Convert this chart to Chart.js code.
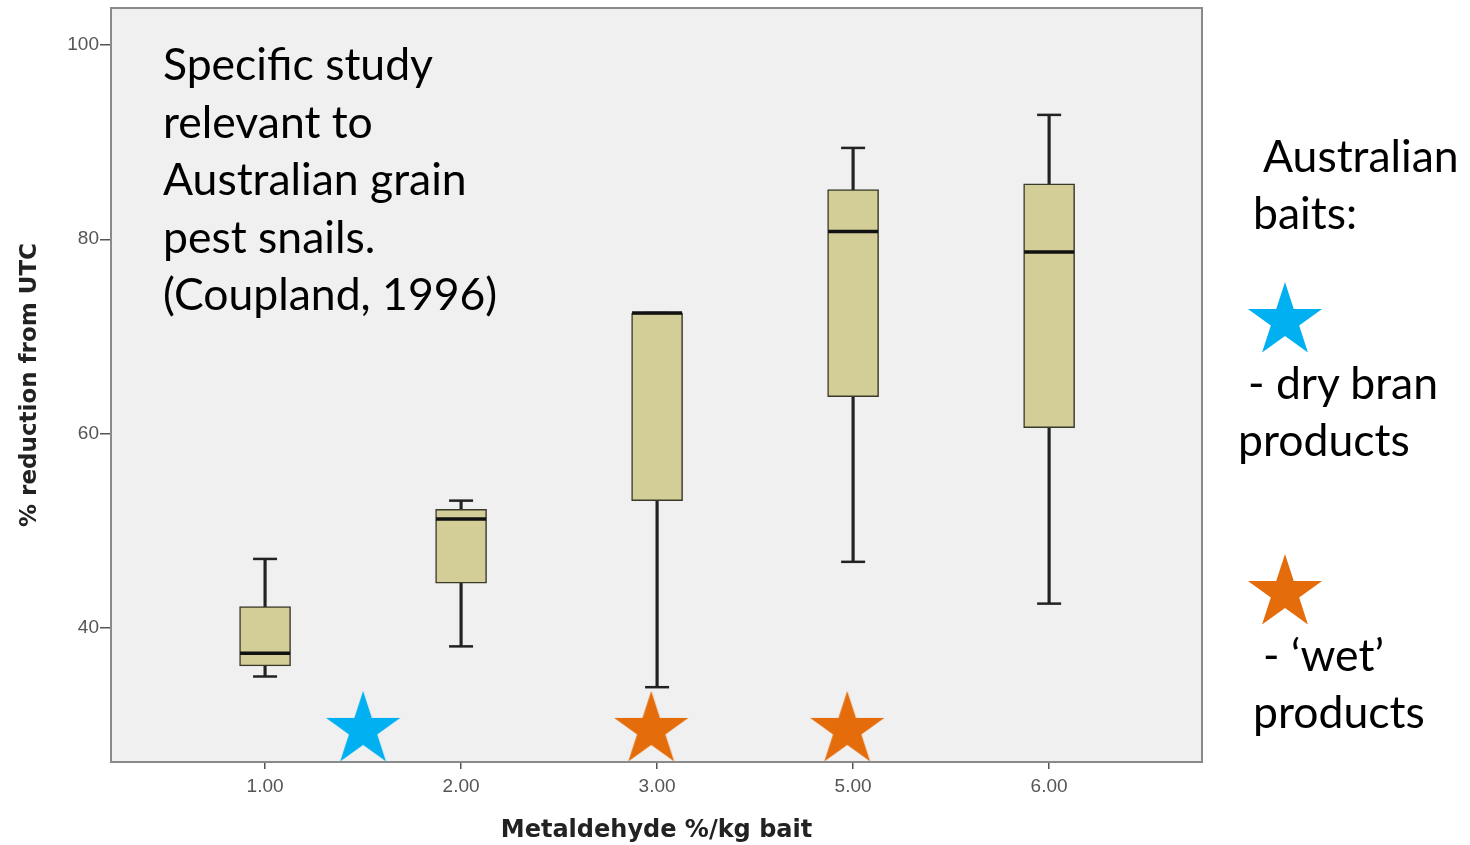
<!DOCTYPE html>
<html>
<head>
<meta charset="utf-8">
<script src="https://cdn.jsdelivr.net/npm/chart.js@4.4.1/dist/chart.umd.min.js"></script>
<style>
  html, body { margin: 0; padding: 0; background: #ffffff; }
  #wrap { position: relative; width: 1470px; height: 845px; overflow: hidden; }
  #chart { position: absolute; left: 0; top: 0; }
  .note { position: absolute; font-family: Lato, "Open Sans", sans-serif; color: #000; font-size: 44.5px; line-height: 57.5px; white-space: nowrap; }
  .key { position: absolute; }
</style>
</head>
<body>
<div id="wrap">
  <canvas id="chart" width="1470" height="845"></canvas>
  <div class="note" style="left:163px; top:34px;">Specific study<br>relevant to<br>Australian grain<br>pest snails.<br>(Coupland, 1996)</div>
  <div class="note" style="left:1263px; top:126px;">Australian</div>
  <div class="note" style="left:1253px; top:183px;">baits:</div>
  <canvas class="key" id="keyDry" width="80" height="80" style="left:1245px; top:281px;"></canvas>
  <div class="note" style="left:1248px; top:353px;">- dry bran</div>
  <div class="note" style="left:1238px; top:410px;">products</div>
  <canvas class="key" id="keyWet" width="80" height="80" style="left:1245px; top:553px;"></canvas>
  <div class="note" style="left:1263px; top:625px;">- ‘wet’</div>
  <div class="note" style="left:1253px; top:682px;">products</div>
</div>
<script>
// Metaldehyde dose groups (% per kg bait) and box-plot summaries of % reduction from UTC
const doseLabels = ['1.00', '2.00', '3.00', '5.00', '6.00'];
const dosePos    = [1, 2, 3, 4, 5];
const whiskerLow  = [35.0, 38.1, 33.9, 46.8, 42.5];
const quartile1   = [36.1, 44.6, 53.1, 63.8, 60.6];
const medians     = [37.4, 51.2, 72.4, 80.8, 78.7];
const quartile3   = [42.2, 52.2, 72.4, 85.1, 85.7];
const whiskerHigh = [47.1, 53.1, 72.4, 89.4, 92.8];

// Australian bait products placed along the dose axis (axis position units)
const dryBranX = [1.5];
const dryBranY = [29.5];
const wetX = [2.97, 3.97];
const wetY = [29.5, 29.5];

const yTicks = [40, 60, 80, 100];

const BLUE = '#00B0F0';
const ORANGE = '#E46C0A';
const BOX_FILL = '#D3CE97';

function starCanvas(color, size, r, cvs) {
  const c = cvs || document.createElement('canvas');
  c.width = size; c.height = size;
  const g = c.getContext('2d');
  const cx = size / 2, cy = size / 2, ri = r * 0.382;
  g.beginPath();
  for (let i = 0; i < 10; i++) {
    const rad = (i % 2 === 0) ? r : ri;
    const a = -Math.PI / 2 + i * Math.PI / 5;
    const px = cx + rad * Math.cos(a), py = cy + rad * Math.sin(a);
    if (i === 0) g.moveTo(px, py); else g.lineTo(px, py);
  }
  g.closePath();
  g.fillStyle = color;
  g.fill();
  return c;
}

const blueStar = starCanvas(BLUE, 80, 39);
const orangeStar = starCanvas(ORANGE, 80, 39);
starCanvas(BLUE, 80, 39, document.getElementById('keyDry'));
starCanvas(ORANGE, 80, 39, document.getElementById('keyWet'));

const zip = (xs, ys) => xs.map((x, i) => ({ x: x, y: ys[i] }));

// grey plot panel with a thin frame
const plotFrame = {
  id: 'plotFrame',
  beforeDatasetsDraw(chart) {
    const a = chart.chartArea, ctx = chart.ctx;
    ctx.save();
    ctx.fillStyle = '#f0f0f0';
    ctx.fillRect(a.left, a.top, a.right - a.left, a.bottom - a.top);
    ctx.restore();
  },
  afterDraw(chart) {
    const a = chart.chartArea, ctx = chart.ctx;
    ctx.save();
    ctx.strokeStyle = '#8a8a8a';
    ctx.lineWidth = 2;
    ctx.strokeRect(a.left, a.top, a.right - a.left, a.bottom - a.top);
    ctx.restore();
  }
};

new Chart(document.getElementById('chart'), {
  data: {
    datasets: [
      {
        type: 'scatter',
        label: 'dry bran',
        data: zip(dryBranX, dryBranY),
        pointStyle: blueStar,
        order: 0,
        clip: false
      },
      {
        type: 'scatter',
        label: 'wet',
        data: zip(wetX, wetY),
        pointStyle: orangeStar,
        order: 0,
        clip: false
      },
      {
        type: 'scatter',
        label: 'median',
        data: zip(dosePos, medians),
        pointStyle: 'line',
        pointRadius: 25,
        borderColor: '#111111',
        borderWidth: 3.5,
        order: 1
      },
      {
        type: 'scatter',
        label: 'caps',
        data: zip(dosePos, whiskerLow).concat(zip(dosePos, whiskerHigh)),
        pointStyle: 'line',
        pointRadius: 12,
        borderColor: '#222222',
        borderWidth: 2.5,
        order: 3
      },
      {
        type: 'bar',
        label: 'box',
        data: dosePos.map((x, i) => ({ x: x, y: [quartile1[i], quartile3[i]] })),
        backgroundColor: BOX_FILL,
        borderColor: '#3a3a2a',
        borderWidth: 1.5,
        borderSkipped: false,
        barThickness: 51,
        grouped: false,
        order: 2
      },
      {
        type: 'bar',
        label: 'whisker',
        data: dosePos.map((x, i) => ({ x: x, y: [whiskerLow[i], whiskerHigh[i]] })),
        backgroundColor: '#222222',
        borderWidth: 0,
        barThickness: 2.5,
        grouped: false,
        order: 4
      }
    ]
  },
  options: {
    responsive: false,
    animation: false,
    layout: { autoPadding: false, padding: { left: 0, top: 8, right: 268, bottom: 0 } },
    plugins: { legend: { display: false }, tooltip: { enabled: false } },
    scales: {
      x: {
        type: 'linear',
        min: 0.214,
        max: 5.78,
        offset: false,
        afterFit: s => { s.height = 83; s.paddingLeft = 0; s.paddingRight = 0; },
        afterBuildTicks: s => { s.ticks = dosePos.map(v => ({ value: v })); },
        ticks: {
          callback: (v) => doseLabels[dosePos.indexOf(v)] ?? '',
          font: { family: 'Arial, "Liberation Sans", sans-serif', size: 19 },
          color: '#555',
          padding: 6,
          maxRotation: 0,
          autoSkip: false
        },
        grid: { drawOnChartArea: false, drawTicks: true, tickLength: 7, color: '#555', lineWidth: 1.5, offset: false },
        border: { display: false },
        title: {
          display: true,
          text: 'Metaldehyde %/kg bait',
          font: { family: '"DejaVu Sans", Verdana, sans-serif', size: 24, weight: 'bold' },
          color: '#222',
          padding: { top: 0, bottom: 0 }
        }
      },
      y: {
        type: 'linear',
        min: 26.2,
        max: 103.8,
        afterFit: s => { s.width = 111; s.paddingTop = 0; s.paddingBottom = 0; },
        afterBuildTicks: s => { s.ticks = yTicks.map(v => ({ value: v })); },
        ticks: {
          font: { family: 'Arial, "Liberation Sans", sans-serif', size: 19 },
          color: '#555',
          padding: 1
        },
        grid: { drawOnChartArea: false, drawTicks: true, tickLength: 11, color: '#555', lineWidth: 1.5 },
        border: { display: false },
        title: {
          display: true,
          text: '% reduction from UTC',
          font: { family: '"DejaVu Sans", Verdana, sans-serif', size: 23, weight: 'bold' },
          color: '#222',
          padding: { top: 16, bottom: 0 }
        }
      }
    }
  },
  plugins: [plotFrame]
});
</script>
</body>
</html>
